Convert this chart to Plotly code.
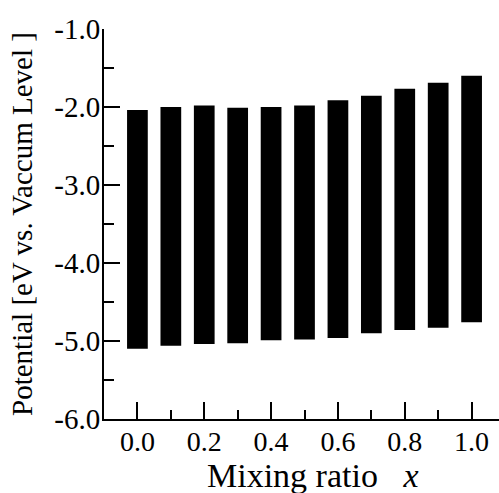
import plotly.graph_objects as go

mixing_ratio = [0.0, 0.1, 0.2, 0.3, 0.4, 0.5, 0.6, 0.7, 0.8, 0.9, 1.0]
upper_level = [-2.04, -2.00, -1.98, -2.01, -2.00, -1.98, -1.915, -1.855, -1.765, -1.69, -1.60]
lower_level = [-5.10, -5.06, -5.04, -5.03, -4.99, -4.98, -4.96, -4.90, -4.86, -4.83, -4.76]

x_tickvals = [0.0, 0.2, 0.4, 0.6, 0.8, 1.0]
x_ticktext = ["0.0", "0.2", "0.4", "0.6", "0.8", "1.0"]
y_tickvals = [-6.0, -5.0, -4.0, -3.0, -2.0, -1.0]
y_ticktext = ["-6.0", "-5.0", "-4.0", "-3.0", "-2.0", "-1.0"]

heights = [u - l for u, l in zip(upper_level, lower_level)]

FONT = "Liberation Serif, Times New Roman, serif"

fig = go.Figure()
fig.add_trace(go.Bar(
    x=mixing_ratio,
    y=heights,
    base=lower_level,
    width=0.062,
    marker=dict(color="black", line=dict(width=0)),
    showlegend=False,
))

fig.update_layout(
    width=499,
    height=493,
    margin=dict(l=104, r=0, t=29, b=74),
    paper_bgcolor="white",
    plot_bgcolor="white",
    font=dict(family=FONT, color="black"),
    xaxis=dict(
        range=[-0.1, 1.082],
        automargin=False,
        tickvals=x_tickvals,
        ticktext=x_ticktext,
        ticks="inside",
        ticklen=17,
        tickwidth=2,
        tickcolor="black",
        minor=dict(ticks="inside", ticklen=9, tickwidth=2, tickcolor="black", dtick=0.1, tick0=0),
        showline=True,
        linecolor="black",
        linewidth=2,
        showgrid=False,
        zeroline=False,
        tickfont=dict(family=FONT, size=28),
        ticklabelstandoff=-4,
    ),
    yaxis=dict(
        range=[-6.0, -1.0],
        automargin=False,
        tickvals=y_tickvals,
        ticktext=y_ticktext,
        ticks="inside",
        ticklen=16,
        tickwidth=2,
        tickcolor="black",
        minor=dict(ticks="inside", ticklen=10, tickwidth=2, tickcolor="black", dtick=0.5, tick0=0),
        showline=True,
        linecolor="black",
        linewidth=2,
        showgrid=False,
        zeroline=False,
        tickfont=dict(family=FONT, size=29),
        ticklabelstandoff=-4,
        title=dict(text="Potential [eV vs. Vaccum Level ]", font=dict(family=FONT, size=29), standoff=13),
    ),
    annotations=[
        dict(
            text="Mixing ratio&nbsp;&nbsp;&nbsp;<i>x</i>",
            xref="paper", yref="paper",
            x=0.53, y=-0.145,
            xanchor="center", yanchor="middle",
            showarrow=False,
            font=dict(family=FONT, size=34, color="black"),
        )
    ],
)

fig.write_html("out.html")
